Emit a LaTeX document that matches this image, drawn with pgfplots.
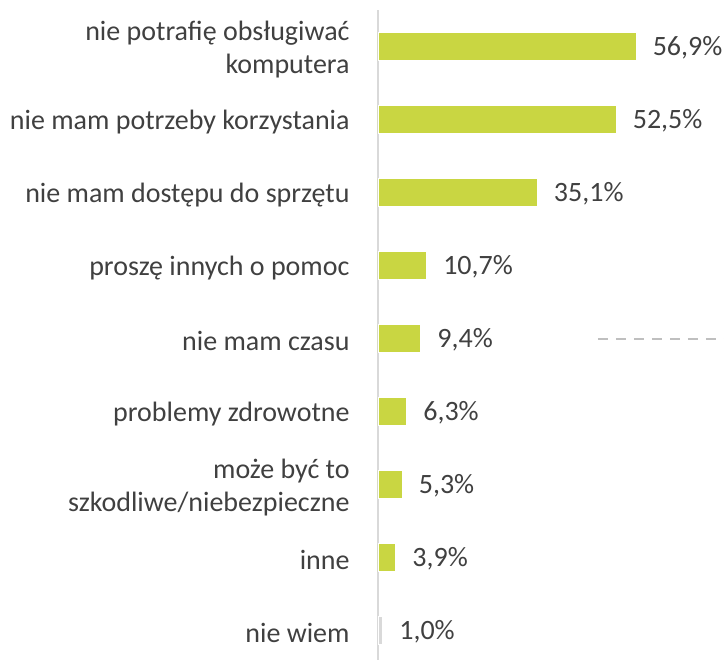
\documentclass[border=0pt]{standalone}
\usepackage{pgfplots}
\pgfplotsset{compat=1.18}
\usepackage{fontspec}
\setmainfont{Carlito}
\definecolor{barg}{HTML}{C9D642}
\definecolor{barx}{HTML}{D9D9D9}
\definecolor{txt}{HTML}{404040}
\definecolor{axl}{HTML}{D9D9D9}
\definecolor{dsh}{HTML}{BFBFBF}
\begin{document}
\begin{tikzpicture}
\useasboundingbox (-283.5pt,0pt) rectangle (259.5pt,495pt);
\begin{axis}[
  scale only axis,
  width=259.5pt, height=487.5pt,
  xbar, bar width=21pt, bar shift=0pt,
  xmin=0, xmax=76.3,
  ymin=-0.5, ymax=8.4,
  y dir=reverse,
  axis x line=none,
  axis y line=left,
  y axis line style={-, color=axl, line width=1pt},
  ytick={0,...,8},
  yticklabels={{nie potrafię obsługiwać\\komputera},{nie mam potrzeby korzystania},{nie mam dostępu do sprzętu},{proszę innych o pomoc},{nie mam czasu},{problemy zdrowotne},{może być to\\szkodliwe/niebezpieczne},{inne},{nie wiem}},
  yticklabel style={align=right, font=\fontsize{21}{24.75}\selectfont, text=txt, inner sep=0pt, xshift=-19pt, yshift=-2pt},
  ytick style={draw=none},
  /pgf/number format/assume math mode=true,
  nodes near coords={\pgfmathprintnumber[fixed,fixed zerofill,precision=1,use comma]{\pgfplotspointmeta}\%},
  nodes near coords style={font=\fontsize{21}{24}\selectfont, text=txt, anchor=west, xshift=9pt, yshift=-1pt},
  clip=false,
]
\addplot[fill=barg, draw=white, line width=0.5pt] coordinates {(56.9,0) (52.5,1) (35.1,2) (10.7,3) (9.4,4) (6.3,5) (5.3,6) (3.9,7)};
\addplot[fill=barx, draw=white, line width=0.5pt] coordinates {(1.0,8)};
\addplot[sharp plot, nodes near coords={}, draw=dsh, fill=none, line width=1.5pt, dash pattern=on 7.5pt off 6pt, forget plot] coordinates {(48.5,4) (76.3,4)};
\end{axis}
\end{tikzpicture}
\end{document}
